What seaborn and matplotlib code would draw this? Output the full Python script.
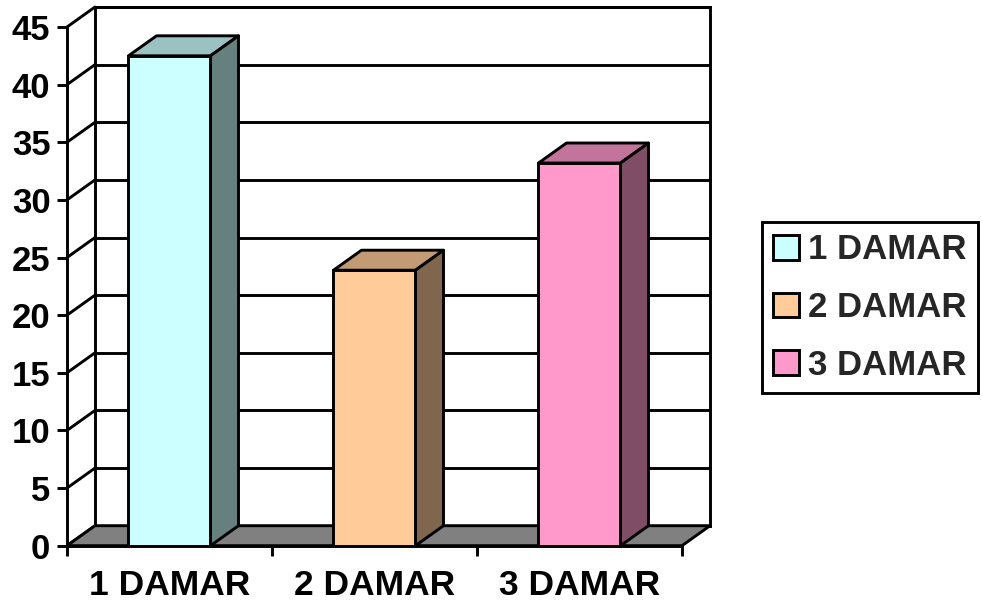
import matplotlib
matplotlib.use("Agg")
import matplotlib.pyplot as plt
import seaborn as sns
import pandas as pd
from matplotlib.patches import Polygon, Rectangle
from matplotlib.colors import to_rgb

categories = ["1 DAMAR", "2 DAMAR", "3 DAMAR"]
values = [42.5, 23.9, 33.2]
front_colors = ["#CCFFFF", "#FFCC99", "#FF99CC"]
y_ticks = list(range(0, 50, 5))

sns.set_theme(style="white")
plt.rcParams["font.family"] = ["Liberation Sans", "DejaVu Sans"]
plt.rcParams["font.weight"] = "bold"

df = pd.DataFrame({"kategori": categories, "nilai": values})

W, H = 982, 606
fig = plt.figure(figsize=(W / 100, H / 100), dpi=100)
ax = fig.add_axes([67 / W, 1 - 545.7 / H, (710 - 67) / W, (545.7 - 7) / H])

# depth offset of the pseudo-3D box (category units, value units)
DX, DY = 0.1366, 1.735
LW = 2.1
YMAX = y_ticks[-1]
n = len(categories)

sns.barplot(data=df, x="kategori", y="nilai", hue="kategori",
            palette=front_colors, saturation=1, width=0.4,
            edgecolor="black", linewidth=LW, ax=ax, legend=True, zorder=5)
bars = list(ax.patches)

ax.set_xlim(-0.5, n - 0.5 + DX)
ax.set_ylim(0, YMAX + DY)
for s in ax.spines.values():
    s.set_visible(False)

# back wall with gridlines
ax.add_patch(Rectangle((-0.5 + DX, DY), n, YMAX, facecolor="white",
                       edgecolor="black", linewidth=LW, zorder=1, clip_on=False))
for v in y_ticks:
    ax.plot([-0.5 + DX, n - 0.5 + DX], [v + DY, v + DY], color="black", lw=LW,
            zorder=1.5, clip_on=False)
    # side wall lines from the front axis to the back wall
    ax.plot([-0.5, -0.5 + DX], [v, v + DY], color="black", lw=LW, zorder=1.5,
            solid_capstyle="round", clip_on=False)

# floor
ax.add_patch(Polygon([(-0.5, 0), (n - 0.5, 0), (n - 0.5 + DX, DY), (-0.5 + DX, DY)],
                     closed=True, facecolor="#808080", edgecolor="black",
                     linewidth=LW, zorder=2, clip_on=False))

# front axis lines
ax.plot([-0.5, -0.5], [0, YMAX], color="black", lw=LW, zorder=6, clip_on=False)
ax.plot([-0.5, n - 0.5], [0, 0], color="black", lw=LW, zorder=6, clip_on=False)


def shade(c, f):
    r, g, b = to_rgb(c)
    return (r * f, g * f, b * f)


# top and side faces of each bar
for p, c in zip(bars, front_colors):
    x0, w, h = p.get_x(), p.get_width(), p.get_height()
    top = [(x0, h), (x0 + w, h), (x0 + w + DX, h + DY), (x0 + DX, h + DY)]
    side = [(x0 + w, 0), (x0 + w, h), (x0 + w + DX, h + DY), (x0 + w + DX, DY)]
    ax.add_patch(Polygon(top, closed=True, facecolor=shade(c, 0.76),
                         edgecolor="black", linewidth=LW, zorder=4, joinstyle="round"))
    ax.add_patch(Polygon(side, closed=True, facecolor=shade(c, 0.5),
                         edgecolor="black", linewidth=LW, zorder=4, joinstyle="round"))

# ticks and labels
ax.set_yticks(y_ticks)
ax.set_yticklabels([str(v) for v in y_ticks])
ax.set_xticks(range(n))
ax.set_xticklabels(categories)
ax.set_xticks([i - 0.5 for i in range(n + 1)], minor=True)
ax.tick_params(axis="y", which="major", left=True, direction="out", length=7,
               width=LW, color="black", pad=5, labelsize=25, labelcolor="black")
ax.tick_params(axis="x", which="major", bottom=True, length=0, pad=17,
               labelsize=25.5, labelcolor="black")
ax.tick_params(axis="x", which="minor", bottom=True, direction="out", length=7,
               width=LW, color="black")
for lbl in ax.get_xticklabels() + ax.get_yticklabels():
    lbl.set_fontweight("bold")
ax.set_xlabel("")
ax.set_ylabel("")

handles, labels = ax.get_legend_handles_labels()
ax.get_legend().remove()
leg = fig.legend(handles, labels, loc="upper left",
                 bbox_to_anchor=(762 / W, 1 - 222 / H), frameon=True,
                 fancybox=False, edgecolor="black", framealpha=1,
                 prop={"size": 25, "weight": "bold"}, handlelength=0.74,
                 handleheight=0.72, handletextpad=0.25, labelspacing=0.71,
                 borderpad=0.33, borderaxespad=0)
leg.get_frame().set_linewidth(LW)
for hdl in leg.legend_handles:
    hdl.set_linewidth(LW)

fig.savefig("out.png", dpi=100)
